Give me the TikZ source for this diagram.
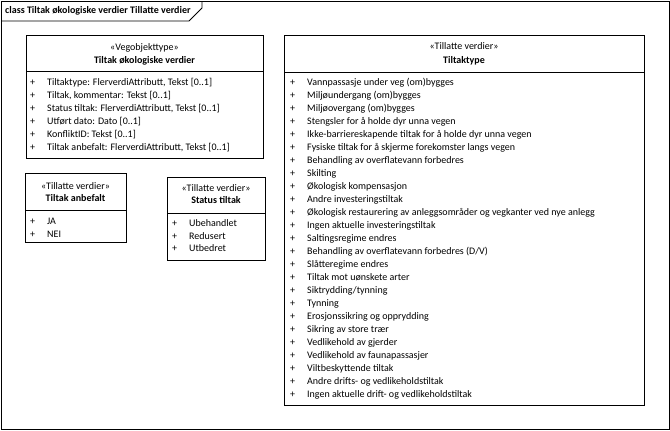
\documentclass[tikz,border=0pt]{standalone}
\usepackage{fontspec}
\setmainfont{Carlito}
\begin{document}
\begin{tikzpicture}[x=1pt,y=-1pt,
  txt/.style={inner sep=0pt, anchor=west, font=\fontsize{10}{12}\selectfont, text height=7pt, text depth=2pt},
  ctxt/.style={inner sep=0pt, anchor=center, font=\fontsize{10}{12}\selectfont, text height=7pt, text depth=2pt},
  btxt/.style={ctxt, font=\fontsize{10}{12}\selectfont\bfseries},
  cbox/.style={draw=black, line width=1pt, inner sep=0pt, anchor=north west, fill=white},
]
\useasboundingbox (0,0) rectangle (670,431);
\fill[white] (0,0) rectangle (670,431);
% frame
\draw[line width=0.9pt] (1,1) rectangle (669,429);
\coordinate (tabA) at (1,21);
\coordinate (tabB) at (189,21);
\coordinate (tabC) at (202,8);
\coordinate (tabD) at (202,1);
\draw[line width=0.9pt] (tabA) -- (tabB) -- (tabC) -- (tabD);
\node[txt, font=\fontsize{10}{12}\selectfont\bfseries] (title) at (5,11) {class Tiltak økologiske verdier Tillatte verdier};

% Box 1
\node[cbox, minimum width=237pt, minimum height=123pt] (b1) at (26,35) {};
\draw[line width=1pt] (26,71) coordinate (b1l) -- (263,71) coordinate (b1r);
\node[ctxt] (b1s) at (144.5,48) {«Vegobjekttype»};
\node[btxt] (b1n) at (144.5,61) {Tiltak økologiske verdier};
\foreach \t [count=\i] in {{Tiltaktype: FlerverdiAttributt, Tekst [0..1]},
  {Tiltak, kommentar: Tekst [0..1]},
  {Status tiltak: FlerverdiAttributt, Tekst [0..1]},
  {Utført dato: Dato [0..1]},
  {KonfliktID: Tekst [0..1]},
  {Tiltak anbefalt: FlerverdiAttributt, Tekst [0..1]}}{
  \node[txt] (b1p\i) at (30,{82.5+13*(\i-1)}) {+};
  \node[txt] (b1a\i) at (47,{82.5+13*(\i-1)}) {\t};
}

% Box 2
\node[cbox, minimum width=101pt, minimum height=69pt] (b2) at (25,173) {};
\draw[line width=1pt] (25,210) -- (126,210);
\node[ctxt] (b2s) at (75.5,187) {«Tillatte verdier»};
\node[btxt] (b2n) at (75.5,199) {Tiltak anbefalt};
\node[txt] (b2p1) at (30,222) {+};
\node[txt] (b2a1) at (47,222) {JA};
\node[txt] (b2p2) at (30,234.5) {+};
\node[txt] (b2a2) at (47,234.5) {NEI};

% Box 3
\node[cbox, minimum width=98pt, minimum height=83pt] (b3) at (167,177) {};
\draw[line width=1pt] (167,213) -- (265,213);
\node[ctxt] (b3s) at (216,189) {«Tillatte verdier»};
\node[btxt] (b3n) at (216,201) {Status tiltak};
\foreach \t [count=\i] in {Ubehandlet, Redusert, Utbedret}{
  \node[txt] (b3p\i) at (172,{224+12.7*(\i-1)}) {+};
  \node[txt] (b3a\i) at (189,{224+12.7*(\i-1)}) {\t};
}

% Box 4
\node[cbox, minimum width=360pt, minimum height=370pt] (b4) at (284,35) {};
\draw[line width=1pt] (284,72) -- (644,72);
\node[ctxt] (b4s) at (464,47) {«Tillatte verdier»};
\node[btxt] (b4n) at (464,60.5) {Tiltaktype};
\foreach \t [count=\i] in {Vannpassasje under veg (om)bygges,
  Miljøundergang (om)bygges,
  Miljøovergang (om)bygges,
  Stengsler for å holde dyr unna vegen,
  Ikke-barriereskapende tiltak for å holde dyr unna vegen,
  Fysiske tiltak for å skjerme forekomster langs vegen,
  Behandling av overflatevann forbedres,
  Skilting,
  Økologisk kompensasjon,
  Andre investeringstiltak,
  Økologisk restaurering av anleggsområder og vegkanter ved nye anlegg,
  Ingen aktuelle investeringstiltak,
  Saltingsregime endres,
  Behandling av overflatevann forbedres (D/V),
  Slåtteregime endres,
  Tiltak mot uønskete arter,
  Siktrydding/tynning,
  Tynning,
  Erosjonssikring og opprydding,
  Sikring av store trær,
  Vedlikehold av gjerder,
  Vedlikehold av faunapassasjer,
  Viltbeskyttende tiltak,
  Andre drifts- og vedlikeholdstiltak,
  Ingen aktuelle drift- og vedlikeholdstiltak}{
  \node[txt] (b4p\i) at (290,{82.7+13*(\i-1)}) {+};
  \node[txt] (b4a\i) at (307,{82.7+13*(\i-1)}) {\t};
}
\end{tikzpicture}
\end{document}
